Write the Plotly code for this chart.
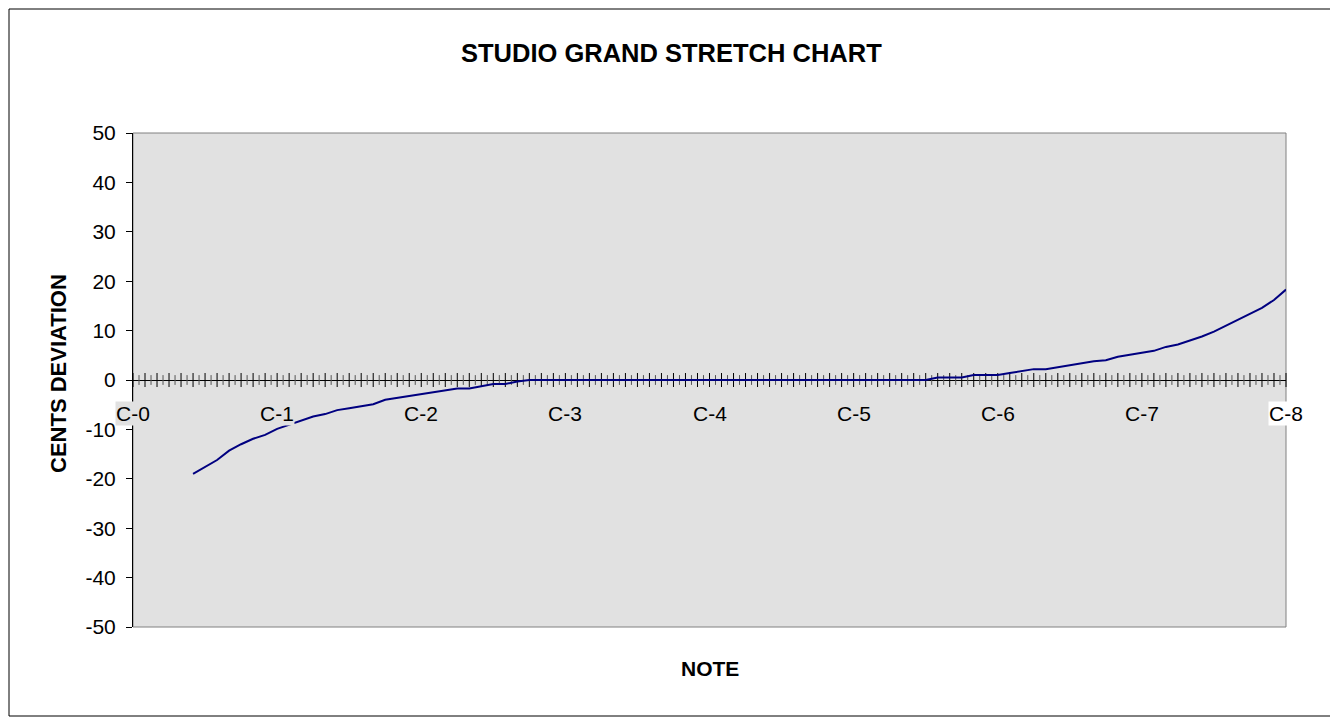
import plotly.graph_objects as go

# ---- data ----
note_labels = ["C-0", "C-1", "C-2", "C-3", "C-4", "C-5", "C-6", "C-7", "C-8"]
label_positions = [0, 12, 24, 36, 48, 60, 72, 84, 96]   # semitone index from C-0

semitone_idx = list(range(5, 97))
cents = [
    -19.0, -17.6, -16.2, -14.3, -13.0, -11.9, -11.1, -9.9, -9.1, -8.2,   # 5-14
    -7.4, -6.9, -6.1, -5.7, -5.3, -4.9, -4.0, -3.6, -3.2, -2.8,          # 15-24
    -2.4, -2.0, -1.7, -1.7, -1.2, -0.8, -0.8, -0.3, 0.0, 0.0,            # 25-34
    0.0, 0.0, 0.0, 0.0, 0.0, 0.0, 0.0, 0.0, 0.0, 0.0,                    # 35-44
    0.0, 0.0, 0.0, 0.0, 0.0, 0.0, 0.0, 0.0, 0.0, 0.0,                    # 45-54
    0.0, 0.0, 0.0, 0.0, 0.0, 0.0, 0.0, 0.0, 0.0, 0.0,                    # 55-64
    0.0, 0.0, 0.5, 0.5, 0.5, 1.0, 1.0, 1.0, 1.4, 1.8,                    # 65-74
    2.2, 2.2, 2.6, 3.0, 3.4, 3.8, 4.0, 4.7, 5.1, 5.5,                    # 75-84
    5.9, 6.7, 7.2, 8.0, 8.8, 9.8, 11.0, 12.3, 13.4, 14.6,                # 85-94
    16.2, 18.3,                                                          # 95-96
]
major_tick_positions = list(range(0, 97))
minor_tick_positions = [i + 0.5 for i in range(0, 96)]
y_ticks = [-50, -40, -30, -20, -10, 0, 10, 20, 30, 40, 50]
y_tick_text = ["-50", "-40", "-30", "-20", "-10", "0", "10", "20", "30", "40", "50"]

FONT = "Liberation Sans, Arial, sans-serif"
PLOT_BG = "#e1e1e1"

# plot area in page pixels: x 133..1286, y 133..627 (page has 8px body margin)
PX_L, PX_R, PX_T, PX_B = 133, 1286, 133, 627
PW, PH = PX_R - PX_L, PX_B - PX_T


def px_x(px):
    return (px - PX_L) / PW


def px_y(py):
    return (PX_B - py) / PH


fig = go.Figure()

# cross tick marks on the category axis (at y = 0)
fig.add_trace(go.Scatter(
    x=major_tick_positions, y=[0] * len(major_tick_positions), mode="markers",
    marker=dict(symbol="line-ns", size=10, line=dict(color="#000000", width=1)),
    hoverinfo="skip", showlegend=False, cliponaxis=False,
))
fig.add_trace(go.Scatter(
    x=minor_tick_positions, y=[0] * len(minor_tick_positions), mode="markers",
    marker=dict(symbol="line-ns", size=7, line=dict(color="#555555", width=1)),
    hoverinfo="skip", showlegend=False, cliponaxis=False,
))

fig.add_trace(go.Scatter(
    x=semitone_idx, y=cents, mode="lines",
    line=dict(color="#000080", width=2),
    showlegend=False,
))

annotations = []
for lab, pos in zip(note_labels, label_positions):
    annotations.append(dict(
        x=pos, y=-6.7, xref="x", yref="y", text=lab, showarrow=False,
        font=dict(family=FONT, size=21, color="#000000"),
        bgcolor="#ffffff" if lab == "C-8" else PLOT_BG,
        borderpad=0, xanchor="center", yanchor="middle",
    ))

annotations += [
    dict(text="<b>STUDIO GRAND STRETCH CHART</b>", xref="paper", yref="paper",
         x=px_x(671), y=px_y(53), showarrow=False, xanchor="center", yanchor="middle",
         font=dict(family=FONT, size=25.5, color="#000000")),
    dict(text="<b>NOTE</b>", xref="paper", yref="paper",
         x=px_x(710), y=px_y(668), showarrow=False, xanchor="center", yanchor="middle",
         font=dict(family=FONT, size=21, color="#000000")),
    dict(text="<b>CENTS DEVIATION</b>", xref="paper", yref="paper", textangle=-90,
         x=px_x(58), y=px_y(374), showarrow=False, xanchor="center", yanchor="middle",
         font=dict(family=FONT, size=22, color="#000000")),
]

fig.update_layout(
    width=1330, height=709,
    paper_bgcolor="#ffffff", plot_bgcolor=PLOT_BG,
    margin=dict(l=PX_L - 8, r=1338 - PX_R, t=PX_T - 8, b=717 - PX_B),
    xaxis=dict(range=[0, 96], showgrid=False, zeroline=False, showticklabels=False,
               ticks="", showline=False, fixedrange=True),
    yaxis=dict(range=[-50, 50], tickvals=y_ticks, ticktext=y_tick_text, showgrid=False,
               zeroline=True, zerolinecolor="#000000", zerolinewidth=1,
               ticks="outside", ticklen=6, tickcolor="#000000",
               showline=True, linecolor="#000000", linewidth=1,
               ticklabelstandoff=6,
               tickfont=dict(family=FONT, size=21, color="#000000")),
    annotations=annotations,
    shapes=[
        dict(type="rect", xref="paper", yref="paper", x0=0, x1=1, y0=0, y1=1,
             line=dict(color="#808080", width=1), layer="below"),
        dict(type="rect", xref="paper", yref="paper",
             x0=px_x(9), x1=px_x(1331), y0=px_y(716), y1=px_y(9),
             line=dict(color="#000000", width=1)),
    ],
)

fig.write_html("out.html")
